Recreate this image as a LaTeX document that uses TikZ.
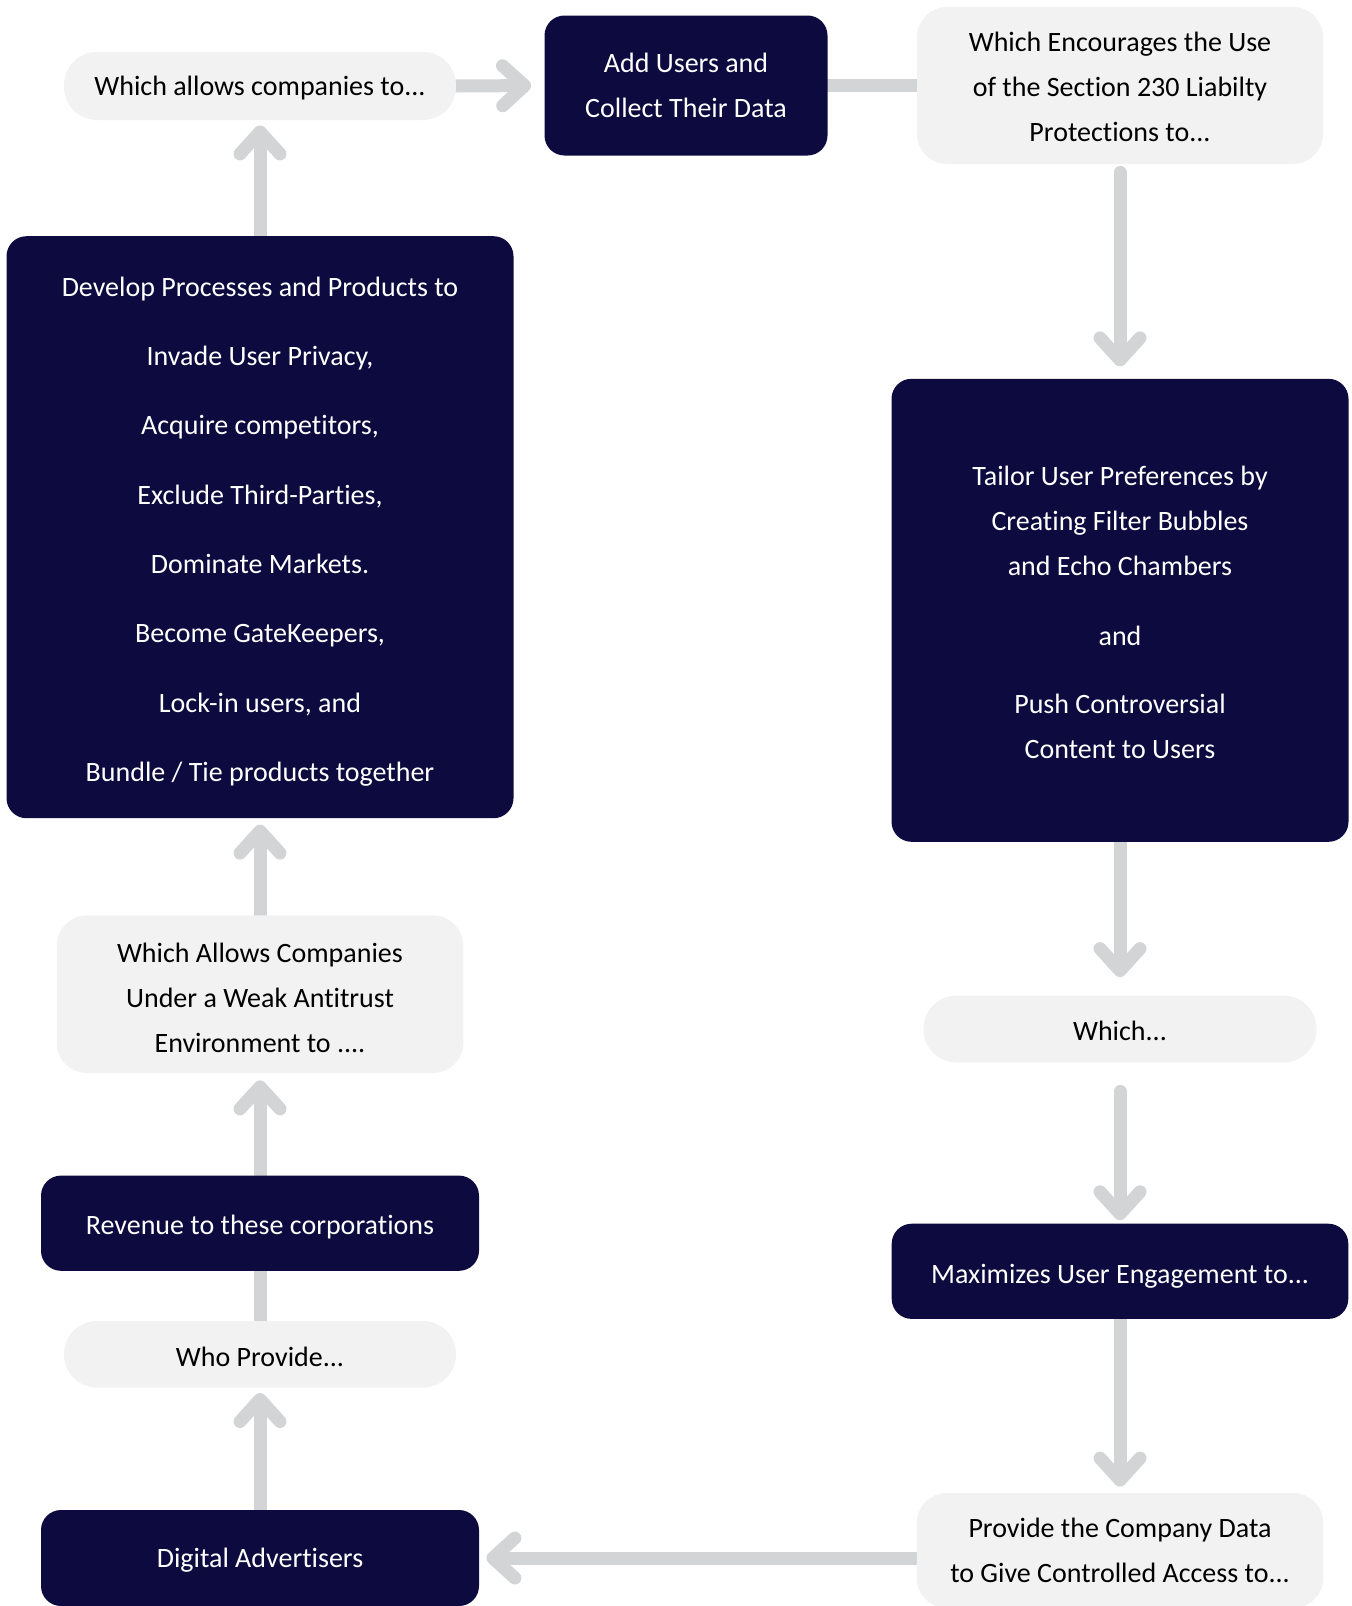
\documentclass[tikz,border=0pt]{standalone}
\usepackage{fontspec}
\setmainfont[Ligatures=NoCommon]{Carlito}
\usetikzlibrary{arrows.meta,backgrounds}
\definecolor{navy}{HTML}{0C0A3E}
\definecolor{lightfill}{HTML}{F2F2F2}
\definecolor{conncol}{HTML}{D3D4D6}
\newcommand\dropstrut[1]{\rule{0pt}{#1}}
\begin{document}
\begin{tikzpicture}[x=0.5pt,y=-0.5pt,
  tdrop/.style={execute at begin node={\rule{0pt}{#1}}},
  tdrop/.default=12pt,
  basebox/.style={inner sep=0pt, align=center, font=\fontsize{14pt}{22.5pt}\selectfont},
  darkbx/.style={basebox, fill=navy, text=white, rounded corners=10pt},
  lightbx/.style={basebox, fill=lightfill, text=black, rounded corners=15pt},
  pillbx/.style={basebox, fill=lightfill, text=black, rounded corners=16.5pt},
  conn/.style={draw=conncol, line width=6.5pt, line cap=round},
  arr/.style={conn, -{Straight Barb[round, length=11pt, width=20pt]}}
]
\useasboundingbox (0,0) rectangle (1352,1606);
% left column
\node[pillbx, tdrop, minimum width=196pt, minimum height=34pt] (wa1) at (260,86) {Which allows companies to...};
\node[darkbx, minimum width=253.5pt, minimum height=291pt] (dev) at (260,527.2)
  {\dropstrut{14pt}Develop Processes and Products to\\[12.15pt]
   Invade User Privacy,\\[12.15pt]
   Acquire competitors,\\[12.15pt]
   Exclude Third-Parties,\\[12.15pt]
   Dominate Markets.\\[12.15pt]
   Become GateKeepers,\\[12.15pt]
   Lock-in users, and\\[12.15pt]
   Bundle / Tie products together};
\node[lightbx, minimum width=203.25pt, minimum height=78.75pt] (weak) at (260,994.2)
  {\dropstrut{13pt}Which Allows Companies\\Under a Weak Antitrust\\Environment to ....};
\node[darkbx, tdrop=14pt, minimum width=219pt, minimum height=47.6pt] (rev) at (260,1223.2) {Revenue to these corporations};
\node[pillbx, tdrop, minimum width=196pt, minimum height=33.3pt] (who) at (260,1354.3) {Who Provide...};
\node[darkbx, tdrop, minimum width=219pt, minimum height=48pt] (dig) at (260,1558) {Digital Advertisers};
% middle top
\node[darkbx, minimum width=141.5pt, minimum height=70pt] (add) at (686,85.5) {Add Users and\\Collect Their Data};
% right column
\node[lightbx, minimum width=203pt, minimum height=78.5pt] (enc) at (1120,85.5)
  {\dropstrut{11pt}Which Encourages the Use\\of the Section 230 Liabilty\\Protections to...};
\node[darkbx, minimum width=228.5pt, minimum height=231.5pt] (tai) at (1120,610.3)
  {\dropstrut{12pt}Tailor User Preferences by\\Creating Filter Bubbles\\and Echo Chambers\\[12.5pt]
   and\\[11.75pt]
   Push Controversial\\Content to Users};
\node[pillbx, tdrop, minimum width=196.5pt, minimum height=33.5pt] (which) at (1120,1029) {Which...};
\node[darkbx, tdrop=15pt, minimum width=228.3pt, minimum height=47.6pt] (max) at (1120,1271.3) {Maximizes User Engagement to...};
\node[lightbx, minimum width=203.25pt, minimum height=57.5pt] (pro) at (1120,1550.5)
  {Provide the Company Data\\to Give Controlled Access to...};
% connectors
\begin{scope}[on background layer]
\draw[arr, shorten >=2.5pt] (dev.north) -- (wa1.south);
\draw[arr, shorten >=6.5pt] (wa1.east) -- (add.west);
\draw[conn] (add.east) -- (enc.west);
\draw[arr, shorten <=4pt, shorten >=6pt] (enc.south) -- (tai.north);
\draw[arr, shorten >=9pt] (tai.south) -- (which.north);
\draw[arr, shorten <=14.25pt, shorten >=1.5pt] (which.south) -- (max.north);
\draw[arr, shorten >=3pt] (max.south) -- (pro.north);
\draw[arr, shorten >=3.5pt] (pro.west |- dig.east) -- (dig.east);
\draw[arr, shorten >=2.5pt] (dig.north) -- (who.south);
\draw[conn] (who.north) -- (rev.south);
\draw[arr, shorten >=3.5pt] (rev.north) -- (weak.south);
\draw[arr, shorten >=3pt] (weak.north) -- (dev.south);
\end{scope}
\end{tikzpicture}
\end{document}
